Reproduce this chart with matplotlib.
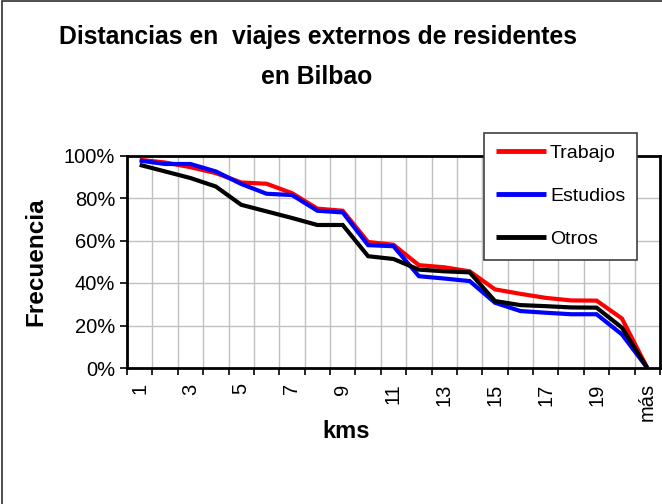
import matplotlib
matplotlib.use("Agg")
import matplotlib.pyplot as plt
from matplotlib.patches import Rectangle
from matplotlib.ticker import FixedLocator, PercentFormatter

plt.rcParams['font.family'] = ['Liberation Sans', 'DejaVu Sans']

categories = [str(i) for i in range(1, 21)] + ['más']
trabajo = [98.0, 96.7, 94.5, 91.7, 87.3, 86.7, 82.3, 75.0, 74.0, 59.3, 58.0,
           48.4, 47.4, 45.5, 37.0, 34.9, 33.0, 31.8, 31.7, 23.3, 0.0]
estudios = [97.6, 96.0, 96.0, 92.5, 86.6, 82.0, 81.4, 74.0, 73.2, 57.8, 57.3,
            43.2, 42.1, 40.9, 30.7, 26.8, 26.0, 25.3, 25.3, 15.8, 0.0]
otros = [95.6, 92.5, 89.4, 85.4, 76.8, 73.7, 70.6, 67.3, 67.3, 52.6, 51.3,
         46.3, 45.5, 45.0, 31.5, 29.6, 29.1, 28.5, 28.4, 19.0, 0.0]
series_names = ['Trabajo', 'Estudios', 'Otros']
series_colors = ['#ff0000', '#0000ff', '#000000']
yticks = [0, 20, 40, 60, 80, 100]

W, H = 662, 504
fig = plt.figure(figsize=(W / 100, H / 100), dpi=100)
fig.patch.set_facecolor('white')

# outer chart border (left/top visible, rest cropped)
fig.patches.append(Rectangle((1.5 / W, -0.1), 2.0, 1.1 - 1.5 / H, transform=fig.transFigure,
                             fill=False, edgecolor='#303030', linewidth=1.2, zorder=0))

left, right, top, bottom = 127, 660, 155.5, 368
ax = fig.add_axes([left / W, 1 - bottom / H, (right - left) / W, (bottom - top) / H])

x = list(range(len(categories)))
for vals, name, col in zip([trabajo, estudios, otros], series_names, series_colors):
    ax.plot(x, vals, color=col, linewidth=3.0, label=name, solid_joinstyle='miter',
            solid_capstyle='butt', zorder=3)

ax.set_xlim(-0.5, len(categories) - 0.5)
ax.set_ylim(0, 100)

# ticks at category boundaries, labels at every other category
ax.xaxis.set_major_locator(FixedLocator([i - 0.5 for i in range(len(categories) + 1)]))
ax.set_xticklabels([])
ax.xaxis.set_minor_locator(FixedLocator(x[::2]))
ax.set_xticklabels(categories[::2], minor=True, rotation=90, fontsize=14.5, va='top', ha='center')
ax.tick_params(axis='x', which='minor', length=0, pad=11)
ax.tick_params(axis='x', which='major', length=5, width=1.2, direction='out', colors='black')

ax.set_yticks(yticks)
ax.yaxis.set_major_formatter(PercentFormatter(decimals=0))
ax.tick_params(axis='y', length=5, width=1.2, direction='out', labelsize=14.5, pad=3.5)

ax.grid(True, which='major', color='#c0c0c0', linewidth=1.0, zorder=0)
ax.set_axisbelow(True)
for s in ax.spines.values():
    s.set_linewidth(2.0)
    s.set_color('black')

fig.text(318 / W, 1 - 37 / H, 'Distancias en  viajes externos de residentes',
         ha='center', va='center', fontsize=17.8, fontweight='bold')
fig.text(317 / W, 1 - 77 / H, 'en Bilbao', ha='center', va='center', fontsize=17.8,
         fontweight='bold')
fig.text(36 / W, 1 - 262 / H, 'Frecuencia', rotation=90, ha='center', va='center',
         fontsize=17.5, fontweight='bold')
fig.text(346 / W, 1 - 431 / H, 'kms', ha='center', va='center', fontsize=17,
         fontweight='bold')

leg = ax.legend(loc='upper left', bbox_to_anchor=(484 / W, 1 - 133 / H),
                bbox_transform=fig.transFigure, borderaxespad=0, fontsize=14,
                frameon=True, fancybox=False, framealpha=1, edgecolor='#404040',
                handlelength=2.6, handletextpad=0.2, labelspacing=1.3, borderpad=0.6)
leg.get_frame().set_linewidth(1.2)
for h in leg.get_lines():
    h.set_linewidth(3.5)

fig.savefig('out.png', dpi=100, facecolor='white')
